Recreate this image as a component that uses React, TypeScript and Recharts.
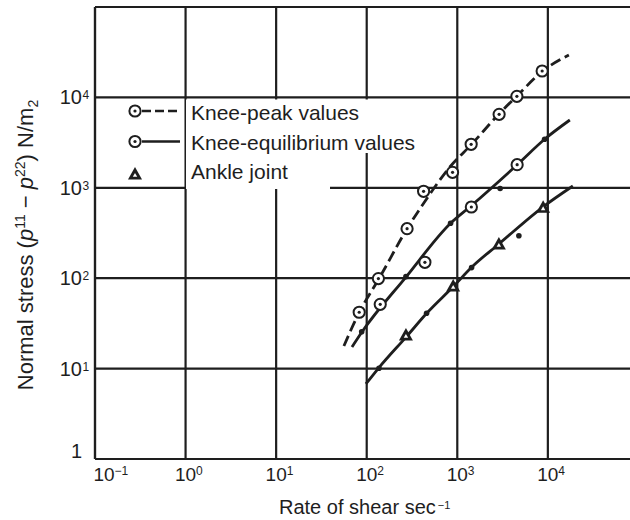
import { ComposedChart, Line, Scatter, XAxis, YAxis, CartesianGrid, Legend } from 'recharts';

const INK = '#1e1e1e';
const FONT = '"Liberation Sans", Arial, Helvetica, sans-serif';

// axes: rate of shear (1/s) against normal stress (N/m2), both log
const X_TICKS = [0.1, 1, 10, 100, 1000, 10000, 100000];
const X_TICK_LABELS = [['10', '−1'], ['10', '0'], ['10', '1'], ['10', '2'], ['10', '3'], ['10', '4'], ['', '']];
const Y_TICKS = [1, 10, 100, 1000, 10000, 100000];
const Y_TICK_LABELS = [['1', ''], ['10', '1'], ['10', '2'], ['10', '3'], ['10', '4'], ['', '']];

const SERIES_NAMES = ['Knee-peak values', 'Knee-equilibrium values', 'Ankle joint'];

// fitted curves
const PEAK_CURVE_X = [56, 82, 136, 278, 450, 828, 1449, 2877, 4550, 8810, 17060];
const PEAK_CURVE_Y = [17.8, 41.2, 98, 350, 733, 1698, 3052, 6550, 10360, 19600, 29450];
const EQ_CURVE_X = [68.7, 88.5, 271, 849, 1413, 4550, 9270, 17500];
const EQ_CURVE_Y = [17.3, 25.4, 103, 408, 629, 1787, 3467, 5623];
const ANKLE_CURVE_X = [98, 136, 278, 462, 916, 1449, 2877, 8810, 18880];
const ANKLE_CURVE_Y = [6.76, 10.2, 22.9, 41.2, 82, 133, 239, 613, 1047];

// measured points
const PEAK_X = [82.6, 134.6, 279, 424.6, 887, 1423, 2897, 4550, 8650];
const PEAK_Y = [42, 99, 353, 915, 1484, 3030, 6500, 10280, 19590];
const EQ_RING_X = [141, 439, 1430, 4580];
const EQ_RING_Y = [51.4, 150, 613, 1802];
const EQ_DOT_X = [88, 271, 843, 2972, 9200];
const EQ_DOT_Y = [25.6, 104, 405, 983, 3440];
const ANKLE_TRI_X = [271, 901, 2877, 8870];
const ANKLE_TRI_Y = [23.5, 82, 239, 608];
const ANKLE_DOT_X = [136.5, 458, 1439, 4786];
const ANKLE_DOT_Y = [10.1, 41, 131, 295];

const pts = (xs: number[], ys: number[]) => xs.map((x, i) => ({ x, y: ys[i] }));

const Ring = ({ cx, cy }: any) => (
  <g>
    <circle cx={cx} cy={cy} r={5.6} fill="#fff" stroke={INK} strokeWidth={2} />
    <circle cx={cx} cy={cy} r={1.6} fill={INK} />
  </g>
);

const Dot = ({ cx, cy }: any) => <circle cx={cx} cy={cy} r={2.8} fill={INK} />;

const Tri = ({ cx, cy }: any) => (
  <g>
    <polygon points={`${cx},${cy - 7} ${cx + 7},${cy + 5.5} ${cx - 7},${cy + 5.5}`} fill={INK} />
    <polygon points={`${cx},${cy - 1} ${cx + 2.2},${cy + 2.8} ${cx - 2.2},${cy + 2.8}`} fill="#fff" />
  </g>
);

const XTick = ({ x, y, payload }: any) => {
  const i = X_TICKS.indexOf(payload.value);
  const [base, exp] = X_TICK_LABELS[i] ?? ['', ''];
  const cx = x + (i === 0 ? 9 : 0);
  return (
    <g fill={INK} fontFamily={FONT}>
      <text x={cx} y={y + 22} textAnchor="middle" fontSize={19}>{base}</text>
      <text x={cx + 10.5} y={y + 16} fontSize={12}>{exp}</text>
    </g>
  );
};

const YTick = ({ x, y, payload }: any) => {
  const i = Y_TICKS.indexOf(payload.value);
  const [base, exp] = Y_TICK_LABELS[i] ?? ['', ''];
  return (
    <g fill={INK} fontFamily={FONT}>
      <text x={x - 13} y={i === 0 ? y - 1 : y + 7} textAnchor="end" fontSize={20}>{base}</text>
      <text x={x - 12.5} y={y + 2} fontSize={12}>{exp}</text>
    </g>
  );
};

const XTitle = ({ viewBox }: any) => (
  <text x={viewBox.x + 184} y={viewBox.y + 55} fill={INK} fontFamily={FONT} fontSize={20}>
    Rate of shear sec
    <tspan dx={2} dy={-5} fontSize={11}>−1</tspan>
  </text>
);

const YTitle = ({ viewBox }: any) => {
  const cx = viewBox.x - 2;
  const cy = viewBox.y + 238;
  return (
    <text x={cx} y={cy} transform={`rotate(-90, ${cx}, ${cy})`} textAnchor="middle" fill={INK} fontFamily={FONT} fontSize={22}>
      Normal stress (<tspan fontStyle="italic">p</tspan>
      <tspan dy={-8} fontSize={14}>11</tspan>
      <tspan dy={8}> − </tspan>
      <tspan fontStyle="italic">p</tspan>
      <tspan dy={-8} fontSize={14}>22</tspan>
      <tspan dy={8}>) N/m</tspan>
      <tspan dy={5} fontSize={14}>2</tspan>
    </text>
  );
};

// legend sits inside the plot, on a white patch that hides the grid behind the text
const LegendBox = () => (
  <svg width={320} height={96} style={{ display: 'block', overflow: 'visible' }}>
    <path d="M66 2.5 H305 V56 H210 V92 H66 Z" fill="#fff" />
    <g stroke={INK} strokeWidth={2.6}>
      <line x1={22} y1={14} x2={60} y2={14} strokeDasharray="9 4" />
      <line x1={22} y1={44.5} x2={60} y2={44.5} />
    </g>
    <Ring cx={15} cy={14} />
    <Ring cx={15} cy={44.5} />
    <Tri cx={15} cy={77} />
    <g fill={INK} fontFamily={FONT} fontSize={21}>
      <text x={71} y={23}>{SERIES_NAMES[0]}</text>
      <text x={71} y={52.5}>{SERIES_NAMES[1]}</text>
      <text x={71} y={82}>{SERIES_NAMES[2]}</text>
    </g>
  </svg>
);

export default function App() {
  return (
    <div style={{ position: 'fixed', left: 0, top: 0, width: 630, height: 520, overflow: 'hidden', background: '#fff' }}>
      <ComposedChart width={740} height={520} margin={{ top: 7, right: 11, bottom: 6, left: 35 }}>
        <CartesianGrid stroke={INK} strokeWidth={2.2} />
        <XAxis
          type="number"
          dataKey="x"
          scale="log"
          domain={[0.1, 1000000]}
          ticks={X_TICKS}
          allowDataOverflow
          height={55}
          tickSize={0}
          tickMargin={0}
          tickLine={false}
          axisLine={{ stroke: INK, strokeWidth: 2.2 }}
          tick={<XTick />}
          interval={0}
          label={{ content: <XTitle /> }}
        />
        <YAxis
          type="number"
          dataKey="y"
          scale="log"
          domain={[1, 100000]}
          ticks={Y_TICKS}
          allowDataOverflow
          width={60}
          tickSize={0}
          tickMargin={0}
          tickLine={false}
          axisLine={{ stroke: INK, strokeWidth: 2.2 }}
          tick={<YTick />}
          interval={0}
          label={{ content: <YTitle /> }}
        />
        <Line data={pts(PEAK_CURVE_X, PEAK_CURVE_Y)} dataKey="y" type="monotone" stroke={INK} strokeWidth={2.8}
          strokeDasharray="11 5" dot={false} activeDot={false} legendType="none" isAnimationActive={false} />
        <Line data={pts(EQ_CURVE_X, EQ_CURVE_Y)} dataKey="y" type="monotone" stroke={INK} strokeWidth={2.8}
          dot={false} activeDot={false} legendType="none" isAnimationActive={false} />
        <Line data={pts(ANKLE_CURVE_X, ANKLE_CURVE_Y)} dataKey="y" type="monotone" stroke={INK} strokeWidth={2.8}
          dot={false} activeDot={false} legendType="none" isAnimationActive={false} />
        <Scatter name={SERIES_NAMES[0]} data={pts(PEAK_X, PEAK_Y)} shape={Ring} isAnimationActive={false} />
        <Scatter name={SERIES_NAMES[1]} data={pts(EQ_RING_X, EQ_RING_Y)} shape={Ring} isAnimationActive={false} />
        <Scatter data={pts(EQ_DOT_X, EQ_DOT_Y)} shape={Dot} legendType="none" isAnimationActive={false} />
        <Scatter name={SERIES_NAMES[2]} data={pts(ANKLE_TRI_X, ANKLE_TRI_Y)} shape={Tri} isAnimationActive={false} />
        <Scatter data={pts(ANKLE_DOT_X, ANKLE_DOT_Y)} shape={Dot} legendType="none" isAnimationActive={false} />
        <Legend
          layout="vertical"
          align="center"
          verticalAlign="middle"
          content={<LegendBox />}
          wrapperStyle={{ left: 120, top: 97, width: 320, height: 96 }}
        />
      </ComposedChart>
    </div>
  );
}
